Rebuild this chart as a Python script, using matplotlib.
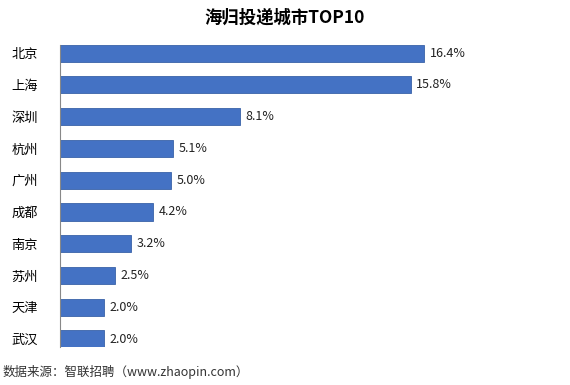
import matplotlib
matplotlib.use('Agg')
import matplotlib.pyplot as plt

plt.rcParams['font.family'] = ['Noto Sans CJK SC', 'DejaVu Sans']

cities = ['北京', '上海', '深圳', '杭州', '广州', '成都', '南京', '苏州', '天津', '武汉']
shares = [16.4, 15.8, 8.1, 5.1, 5.0, 4.2, 3.2, 2.5, 2.0, 2.0]
title = '海归投递城市TOP10'
source = '数据来源：智联招聘（www.zhaopin.com）'

fig = plt.figure(figsize=(5.7, 3.85), dpi=100)
ax = fig.add_axes([0.105, 0.0987, 0.875, 0.784])

ypos = list(range(len(cities)))
ax.barh(ypos, shares, height=0.54, color='#4472C4', edgecolor='#3A62A8', linewidth=0.6)
for y, v in zip(ypos, shares):
    ax.text(v + 0.25, y, f'{v:.1f}%', va='center', ha='left', fontsize=9, color='#222222')

ax.set_yticks(ypos)
ax.set_yticklabels(cities, fontsize=9.5)
ax.set_ylim(len(cities) - 0.75, -0.25)
ax.set_xlim(0, 22.45)
ax.set_xticks([])
for s in ['top', 'right', 'bottom']:
    ax.spines[s].set_visible(False)
ax.spines['left'].set_color('#888888')
ax.spines['left'].set_linewidth(0.8)
ax.tick_params(axis='y', length=0, pad=16)

fig.text(0.5, 0.955, title, ha='center', va='center', fontsize=12.5, fontweight='bold')
fig.text(0.004, 0.033, source, ha='left', va='center', fontsize=9, color='#333333')

fig.savefig('out.png', dpi=100)
